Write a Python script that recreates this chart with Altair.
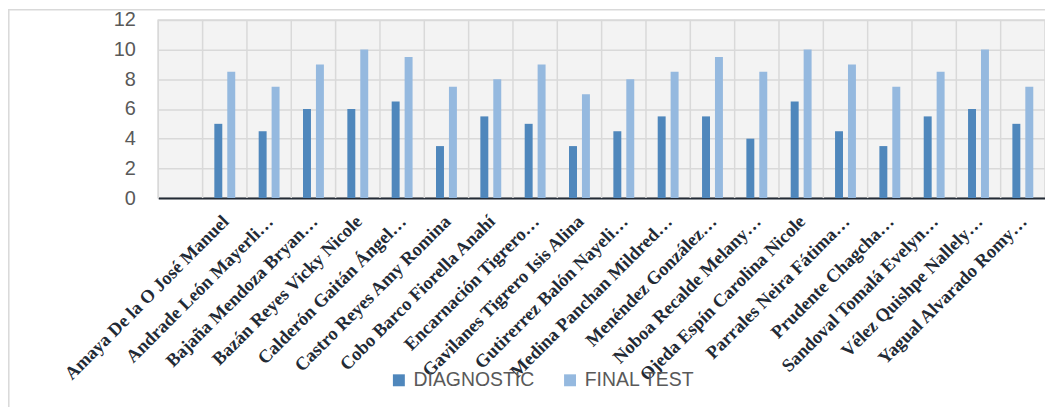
import altair as alt
import pandas as pd

names = [
    "Amaya De la O José Manuel", "Andrade León Mayerli…", "Bajaña Mendoza Bryan…",
    "Bazán Reyes Vicky Nicole", "Calderón Gaitán Ángel…", "Castro Reyes Amy Romina",
    "Cobo Barco Fiorella Anahí", "Encarnación Tigrero…", "Gavilanes Tigrero Isis Alina",
    "Gutirerrez Balón Nayeli…", "Medina Panchan Mildred…", "Menéndez González…",
    "Noboa Recalde Melany…", "Ojeda Espín Carolina Nicole", "Parrales Neira Fátima…",
    "Prudente Chagcha…", "Sandoval Tomalá Evelyn…", "Vélez Quishpe Nallely…",
    "Yagual Alvarado Romy…",
]
diagnostic = [5, 4.5, 6, 6, 6.5, 3.5, 5.5, 5, 3.5, 4.5, 5.5, 5.5, 4, 6.5, 4.5, 3.5, 5.5, 6, 5]
final_test = [8.5, 7.5, 9, 10, 9.5, 7.5, 8, 9, 7, 8, 8.5, 9.5, 8.5, 10, 9, 7.5, 8.5, 10, 7.5]
series = ["DIAGNOSTIC", "FINAL TEST"]
colors = ["#4f87bc", "#95b9df"]
y_ticks = [0, 2, 4, 6, 8, 10, 12]

domain = [" "] + names

rows = []
for n, d, f in zip(names, diagnostic, final_test):
    rows.append({"name": n, "test": series[0], "value": d})
    rows.append({"name": n, "test": series[1], "value": f})
df = pd.DataFrame(rows)
cats = pd.DataFrame({"name": domain})
one = pd.DataFrame({"k": [0]})

W, H = 891, 179

xscale = alt.Scale(domain=domain, paddingInner=0, paddingOuter=0)

bars = alt.Chart(df).mark_bar().encode(
    x=alt.X("name:N", scale=xscale, sort=domain, title=None,
            axis=alt.Axis(labelAngle=-45, labelAlign="right", labelBaseline="middle",
                          labelFont="Liberation Serif", labelFontWeight="bold",
                          labelFontSize=18.5, labelColor="#222a35", labelPadding=20,
                          labelOffset=1, labelLimit=400, labelOverlap=False,
                          ticks=False, tickSize=0, grid=False,
                          domainColor="#222a35", domainWidth=2)),
    xOffset=alt.XOffset("test:N", sort=series,
                        scale=alt.Scale(paddingInner=0.385, paddingOuter=0.906)),
    y=alt.Y("value:Q", scale=alt.Scale(domain=[0, 12]), title=None,
            axis=alt.Axis(values=y_ticks, domain=False, ticks=False, tickSize=0,
                          labelFont="Liberation Sans", labelFontSize=20,
                          labelColor="#595959", labelPadding=23,
                          gridColor="#d9d9d9", gridWidth=1.5)),
    color=alt.Color("test:N", sort=series,
                    scale=alt.Scale(domain=series, range=colors),
                    legend=alt.Legend(title=None, orient="none", legendX=232, legendY=352,
                                      direction="horizontal", symbolType="square",
                                      symbolSize=144, symbolStrokeWidth=0,
                                      labelFont="Liberation Sans", labelFontSize=19.5,
                                      labelColor="#595959", columnPadding=26,
                                      labelOffset=5, padding=0)),
)

vgrid = alt.Chart(cats).mark_rule(color="#d9d9d9", strokeWidth=1.5).encode(
    x=alt.X("name:N", scale=xscale, sort=domain, bandPosition=0),
)

frame_left = alt.Chart(one).mark_rule(color="#d9d9d9", strokeWidth=1.5).encode(
    x=alt.value(-150.2), y=alt.value(-10), y2=alt.value(389)
)
frame_top = alt.Chart(one).mark_rule(color="#d9d9d9", strokeWidth=1.5).encode(
    x=alt.value(-151), x2=alt.value(W), y=alt.value(-10.2)
)

chart = alt.layer(frame_left, frame_top, vgrid, bars).properties(
    width=W, height=H,
    autosize=alt.AutoSizeParams(type="none"),
    padding={"left": 151, "top": 11, "right": 0, "bottom": 210},
).configure_view(stroke="#d9d9d9", strokeWidth=1.5, fill="#f3f3f3")

chart.save("out.html", embed_options={"renderer": "svg", "actions": False})
